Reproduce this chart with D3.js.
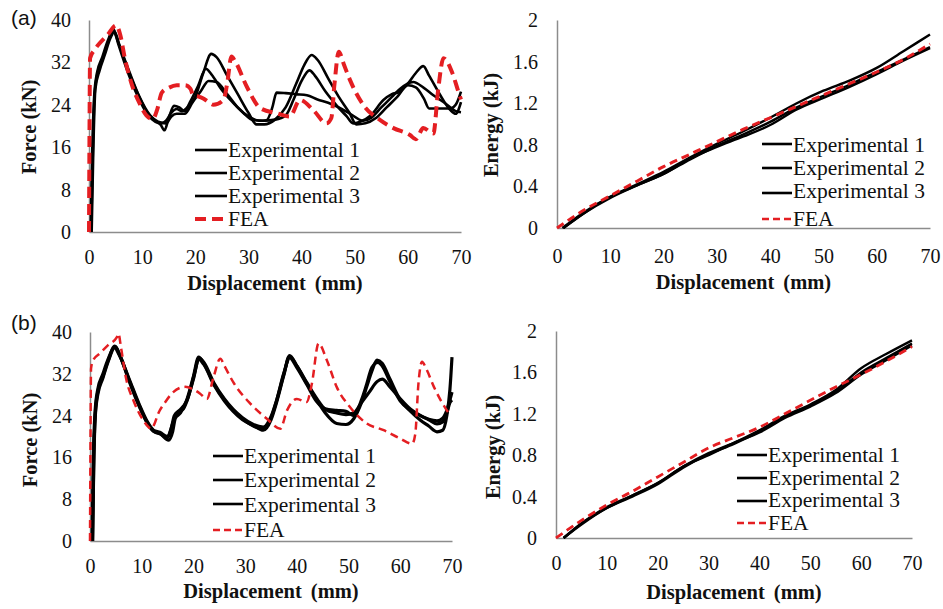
<!DOCTYPE html>
<html>
<head>
<meta charset="utf-8">
<script src="https://cdn.jsdelivr.net/npm/d3@7"></script>
<style>
  html, body { margin: 0; padding: 0; background: #fff; }
  svg { display: block; }
</style>
</head>
<body>
<svg id="chart" width="943" height="609"></svg>
<script>
// ---------------- DATA ----------------
const dispTicks = [0, 10, 20, 30, 40, 50, 60, 70];
const forceTicks = [0, 8, 16, 24, 32, 40];
const energyTicks = [0, 0.4, 0.8, 1.2, 1.6, 2];
const seriesNames = ["Experimental 1", "Experimental 2", "Experimental 3", "FEA"];

// (a) Force vs displacement  [mm, kN]
const forceA_exp1 = [[0.4,0],[0.7,14],[1,25],[1.5,29.5],[2.5,32.5],[3.5,35.5],[4.6,38.3],[5.5,35.5],[7,31],[9,26],[11,22.2],[12.5,20.8],[13.5,20.5],[14.5,21],[15.5,22.5],[16.5,23.2],[17.5,22.8],[18.5,23.5],[20,25.5],[21.5,30],[23,33.6],[24,33],[26,29.5],[28,26],[30,22.5],[31.5,20.3],[33,20.3],[35,21.2],[37,23.5],[39,28],[40.5,31.5],[41.9,33.4],[43,32.5],[45,29],[47,25.5],[49,22.5],[50.3,20.3],[52,20.5],[54,21.5],[56,23.5],[58,25.5],[60,27.7],[61.5,27.3],[63,25.2],[64,23.3],[66,23.3],[68,23.3],[69,24],[70,26.5]];
const forceA_exp2 = [[0.3,0],[0.6,15],[1,26],[1.5,30],[2.5,33],[3.5,36],[4.5,38],[5.5,35.8],[7,31.5],[9,26.5],[11,22.5],[12.5,21],[13.5,20.2],[14.2,19.2],[15,21.5],[16,23.8],[17,23.5],[18,22.8],[19,24.5],[20.5,27.5],[22,30.8],[23,29.8],[25,26.8],[27,24.5],[29,22.5],[30.9,21.1],[33,21],[35,21.2],[37,22],[38.5,25],[40,28.5],[41.5,30.5],[42.5,29.5],[44.5,26.5],[46.5,24],[48.5,21.8],[49.7,20.5],[51,20.8],[53,22],[55.4,24.9],[57,26],[58.5,26.5],[60,28],[61.5,30],[62.9,31.3],[64,29.5],[66,26],[68,23],[69,22.3],[70,24.5]];
const forceA_exp3 = [[0.5,0],[0.8,15],[1.2,27],[2,30.5],[3,33.5],[4,36.5],[4.8,37.8],[5.8,35],[7.5,30.5],[9.5,25.5],[11.5,22],[13,20.8],[14.5,20.5],[15.5,21.8],[16.5,22.3],[18,22.3],[19.5,24.5],[21,26.5],[22.5,28.5],[24,28.3],[26,26],[28,23.5],[30,21.8],[32,21],[33.4,21.1],[34.5,23.5],[35.3,26.3],[37,26.2],[39,26],[41,25.8],[43,25],[45,24.4],[47,23.5],[49,22.4],[51.6,21],[53,21.5],[55,23.5],[57,25.5],[58.5,27],[61,28.3],[63,27.2],[64.8,25.8],[67,24.3],[69,22.8],[70,22.6]];
const forceA_fea = [[0,0],[0.1,20],[0.2,32.8],[1,34.3],[2,35.6],[3.5,37.2],[5.1,39],[5.8,37.5],[6.8,32.5],[8,28],[9.5,24.3],[10.8,22],[12,21.3],[12.8,23],[13.7,26.3],[15,27.2],[16.5,27.7],[18.1,27.7],[19.1,27],[19.6,25.8],[20.5,25.6],[21.5,25.2],[22.5,24.5],[23.4,24],[25.3,24.9],[26,28],[26.8,33.1],[27.5,32.2],[29.7,27.4],[32.2,23.4],[35.3,22.4],[37.8,21.8],[39.7,24.9],[42.2,23],[44.7,20.5],[45.6,21.5],[46.2,28],[47,34],[48,31.5],[49.1,28.7],[51.6,24],[54.8,21.1],[57.3,19.6],[60.4,18.3],[61.5,17.5],[62.9,19.6],[64.8,18.6],[65.7,26.8],[66.7,32.8],[68.3,30.2],[69.5,26.5],[70,25]];

// (a) Energy vs displacement [mm, kJ]
const energyA_exp1 = [[1.2,0],[5,0.14],[10,0.30],[15,0.42],[20,0.54],[25,0.68],[30,0.81],[35,0.93],[40,1.06],[45,1.20],[50,1.32],[55,1.42],[60,1.54],[65,1.70],[70,1.86]];
const energyA_exp2 = [[1.2,0],[5,0.14],[10,0.29],[15,0.41],[20,0.52],[25,0.66],[30,0.79],[35,0.90],[40,1.02],[45,1.16],[50,1.27],[55,1.38],[60,1.50],[65,1.62],[70,1.74]];
const energyA_exp3 = [[1,0],[5,0.15],[10,0.30],[15,0.41],[20,0.52],[25,0.67],[30,0.78],[35,0.88],[40,0.99],[45,1.14],[50,1.25],[55,1.36],[60,1.48],[65,1.61],[70,1.73]];
const energyA_fea  = [[0,0],[5,0.17],[10,0.31],[15,0.45],[20,0.59],[25,0.71],[30,0.83],[35,0.95],[40,1.06],[45,1.17],[50,1.28],[55,1.39],[60,1.50],[65,1.62],[70,1.77]];

// (b) Force vs displacement [mm, kN]
const forceB_exp1 = [[0.5,0],[0.7,14],[1,24],[1.5,28.5],[2.5,31.5],[3.5,34.5],[4.8,37.3],[5.8,35.5],[7.5,31],[9.5,26],[11,22.8],[12.3,21],[13.5,20.6],[15.2,19.3],[16,21],[16.5,23.5],[17.5,24.5],[18.7,27],[20,31.5],[21,35.2],[22,34],[24,30],[26,27],[27.7,25],[29.5,23.4],[31.6,22],[33.5,21.5],[35,23.5],[36.1,26.9],[37.5,32],[38.6,35.5],[40,33.5],[42,30],[43.9,26.9],[45.5,24.5],[47.7,22.5],[49.5,22.3],[51,23.4],[52.5,26.5],[53.5,29.5],[54.5,32.5],[55.5,34.6],[56.5,34],[58,31],[60,27],[62,24.8],[63.9,23.1],[65.5,22],[67.1,20.9],[68.2,21.2],[69,24],[69.6,29],[70,35.2]];
const forceB_exp2 = [[0.4,0],[0.6,14],[1,25],[1.5,29],[2.5,32],[3.5,34.8],[4.7,37],[5.7,35.5],[7.5,31.2],[9.5,26.2],[11,23],[12.3,21.2],[13.5,20.8],[15,20],[16,22.5],[16.8,24.5],[18,25.2],[19,27.5],[20.2,32],[21.1,35],[22,34.2],[24,30.2],[26,27.2],[27.7,25.2],[29.5,23.6],[31.6,22.3],[33.5,21.8],[35,23.8],[36.1,27],[37.5,32.2],[38.7,35.2],[40,33.5],[42,30.2],[43.9,27.2],[45.5,25.2],[47.7,24.5],[49.5,24.2],[51,24.5],[52.5,26.5],[54,28.5],[55.5,30.5],[56.5,31],[58,29.5],[60,27.2],[62,25.2],[63.9,24],[65.5,23.3],[67.1,23],[68.2,23.5],[69,25],[69.6,27],[70,28.5]];
const forceB_exp3 = [[0.5,0],[0.7,13],[1,23.5],[1.5,28],[2.5,31.2],[3.5,34.3],[4.9,37.2],[5.9,35.2],[7.5,30.8],[9.5,25.8],[11,22.7],[12.3,21],[13.5,20.5],[15,19.8],[15.7,21.5],[16.3,24],[17.3,25],[18.7,26.8],[20,31],[21,34.8],[22,33.8],[24,29.8],[26,26.8],[27.7,24.8],[29.5,23.2],[31.6,22.1],[33.5,21.2],[35,23.2],[36.1,26.6],[37.5,31.8],[38.5,35.2],[40,33.2],[42,29.8],[43.9,26.6],[45.5,25.3],[47.7,25],[49.5,24.8],[51,24],[52.5,27],[53.5,30],[54.5,33.2],[55.7,34.2],[56.5,33.5],[58,30.5],[60,26.8],[62,25],[63.9,24],[65.5,23.2],[67.1,22.4],[68.2,22.8],[69,24.5],[69.6,26.5],[70,27]];
const forceB_fea = [[0,0],[0.1,20],[0.2,33],[0.6,34.6],[1.9,35.9],[3.5,37.5],[5.2,39],[5.5,39.7],[6,37],[7,31],[8.4,26.9],[10.3,23.1],[11.9,21.5],[12.5,22.5],[13.2,24.4],[14.5,26.5],[16.1,28.5],[18.4,29.5],[20,29],[21.3,28.2],[22.6,27.2],[23.9,31.4],[25.2,34.9],[26,33.5],[27.7,30.4],[31,26.3],[34.2,23.4],[36.8,21.5],[38.1,25],[40,27.2],[41.9,26.6],[42.9,30.1],[44.2,37.8],[45.8,34.6],[47.7,29.5],[50.3,25.6],[53.5,22.5],[56.8,21.2],[60,19.6],[62.3,18.6],[62.9,20.5],[63.5,30],[64.2,34.3],[65,33],[66.5,29.5],[69,25],[69.7,24]];

// (b) Energy vs displacement [mm, kJ]
const energyB_exp1 = [[1.5,0],[5,0.14],[10,0.30],[15,0.41],[20,0.53],[25,0.69],[30,0.82],[35,0.92],[40,1.04],[45,1.18],[50,1.29],[55,1.43],[60,1.64],[65,1.78],[70,1.91]];
const energyB_exp2 = [[1.5,0],[5,0.13],[10,0.29],[15,0.40],[20,0.52],[25,0.68],[30,0.81],[35,0.91],[40,1.03],[45,1.17],[50,1.28],[55,1.41],[60,1.60],[65,1.74],[70,1.88]];
const energyB_exp3 = [[1.5,0],[5,0.14],[10,0.29],[15,0.41],[20,0.53],[25,0.69],[30,0.80],[35,0.92],[40,1.02],[45,1.16],[50,1.27],[55,1.40],[60,1.58],[65,1.72],[70,1.86]];
const energyB_fea  = [[0,0],[5,0.17],[10,0.32],[15,0.45],[20,0.59],[25,0.73],[30,0.87],[35,0.97],[40,1.07],[45,1.20],[50,1.33],[55,1.46],[60,1.58],[65,1.71],[70,1.85]];

// ---------------- LAYOUT ----------------
const RED = "#e41e22";
const INK = "#111";
const SERIF = "Liberation Serif";
const SANS = "Liberation Sans";

const panels = [
  { series: [forceA_exp1, forceA_exp2, forceA_exp3, forceA_fea], yTicks: forceTicks, yMax: 40,
    x0: 89, x1: 461, yTop: 20, yBot: 232, yTitle: "Force (kN)", yTitleX: 36, yTitleY: 127,
    xTitleY: 290, xTickY: 264, yTickGap: 18,
    expW: 2.6, feaW: 4, feaDash: "11,6",
    leg: { lx0: 195, lx1: 227, tx: 228, lineYs: [150, 173, 196, 219], baseYs: [157, 180, 203, 226], feaW: 4, feaDash: "11,6" },
    tag: "(a)", tagY: 25 },
  { series: [energyA_exp1, energyA_exp2, energyA_exp3, energyA_fea], yTicks: energyTicks, yMax: 2,
    x0: 557, x1: 930, yTop: 20, yBot: 228, yTitle: "Energy (kJ)", yTitleX: 498, yTitleY: 125,
    xTitleY: 289, xTickY: 263, yTickGap: 19,
    expW: 2.4, feaW: 3, feaDash: "8,5",
    leg: { lx0: 762, lx1: 792, tx: 793, lineYs: [144, 168, 193, 219], baseYs: [152, 175, 198, 226], feaW: 2.5, feaDash: "7,4" } },
  { series: [forceB_exp1, forceB_exp2, forceB_exp3, forceB_fea], yTicks: forceTicks, yMax: 40,
    x0: 90, x1: 452, yTop: 332, yBot: 541, yTitle: "Force (kN)", yTitleX: 37, yTitleY: 440,
    xTitleY: 598, xTickY: 573, yTickGap: 18,
    expW: 3.2, feaW: 2.5, feaDash: "8,5",
    leg: { lx0: 213, lx1: 243, tx: 244, lineYs: [456, 480, 504, 530], baseYs: [463, 487, 512, 537], feaW: 2.5, feaDash: "7,4" },
    tag: "(b)", tagY: 330 },
  { series: [energyB_exp1, energyB_exp2, energyB_exp3, energyB_fea], yTicks: energyTicks, yMax: 2,
    x0: 556, x1: 912, yTop: 331, yBot: 538, yTitle: "Energy (kJ)", yTitleX: 500, yTitleY: 447,
    xTitleY: 599, xTickY: 570, yTickGap: 19,
    expW: 2.4, feaW: 2.8, feaDash: "8,5",
    leg: { lx0: 737, lx1: 767, tx: 768, lineYs: [455, 478, 501, 523], baseYs: [462, 485, 507, 530], feaW: 2.5, feaDash: "7,4" } }
];

const svg = d3.select("#chart");

panels.forEach(p => {
  const x = d3.scaleLinear().domain([0, 70]).range([p.x0, p.x1]);
  const y = d3.scaleLinear().domain([0, p.yMax]).range([p.yBot, p.yTop]);
  const g = svg.append("g");

  // axes (lines only, no tick marks)
  const xAxis = d3.axisBottom(x).tickValues(dispTicks).tickSize(0).tickPadding(0).tickFormat(d => d);
  const gx = g.append("g").attr("transform", `translate(0,${p.yBot})`).call(xAxis);
  gx.attr("font-family", SERIF).attr("font-size", 20);
  gx.select(".domain").attr("stroke", "#8c8c8c").attr("stroke-width", 1.5);
  gx.selectAll("text").style("font-family", SERIF).attr("font-size", 20).attr("fill", INK)
    .attr("y", p.xTickY - p.yBot).attr("dy", null);

  const yAxis = d3.axisLeft(y).tickValues(p.yTicks).tickSize(0).tickPadding(p.yTickGap).tickFormat(d => d);
  const gy = g.append("g").attr("transform", `translate(${p.x0},0)`).call(yAxis);
  gy.attr("font-family", SERIF).attr("font-size", 20);
  gy.select(".domain").attr("stroke", "#8c8c8c").attr("stroke-width", 1.5);
  gy.selectAll("text").style("font-family", SERIF).attr("font-size", 20).attr("fill", INK);

  // titles
  g.append("text").attr("x", (p.x0 + p.x1) / 2).attr("y", p.xTitleY)
    .attr("text-anchor", "middle").style("font-family", SERIF).attr("font-weight", "bold")
    .attr("font-size", 20.5).attr("fill", INK).attr("word-spacing", 4).text("Displacement (mm)");
  g.append("text").attr("transform", `translate(${p.yTitleX},${p.yTitleY}) rotate(-90)`)
    .attr("text-anchor", "middle").style("font-family", SERIF).attr("font-weight", "bold")
    .attr("font-size", 20.5).attr("fill", INK).text(p.yTitle);

  // lines
  const line = d3.line().x(d => x(d[0])).y(d => y(d[1])).curve(d3.curveMonotoneX);
  p.series.forEach((s, i) => {
    const isFea = i === 3;
    g.append("path").datum(s).attr("d", line).attr("fill", "none")
      .attr("stroke", isFea ? RED : "#000")
      .attr("stroke-width", isFea ? p.feaW : p.expW)
      .attr("stroke-dasharray", isFea ? p.feaDash : null)
      .attr("stroke-linejoin", "round");
  });

  // legend
  const L = p.leg;
  seriesNames.forEach((name, i) => {
    const isFea = i === 3;
    g.append("line").attr("x1", L.lx0).attr("x2", L.lx1).attr("y1", L.lineYs[i]).attr("y2", L.lineYs[i])
      .attr("stroke", isFea ? RED : "#000").attr("stroke-width", isFea ? L.feaW : 2.6)
      .attr("stroke-dasharray", isFea ? L.feaDash : null);
    g.append("text").attr("x", L.tx).attr("y", L.baseYs[i]).style("font-family", SERIF)
      .attr("font-size", 21.5).attr("fill", INK).text(name);
  });

  if (p.tag) {
    svg.append("text").attr("x", 11).attr("y", p.tagY).style("font-family", SANS)
      .attr("font-size", 21).attr("fill", INK).text(p.tag);
  }
});
</script>
</body>
</html>
